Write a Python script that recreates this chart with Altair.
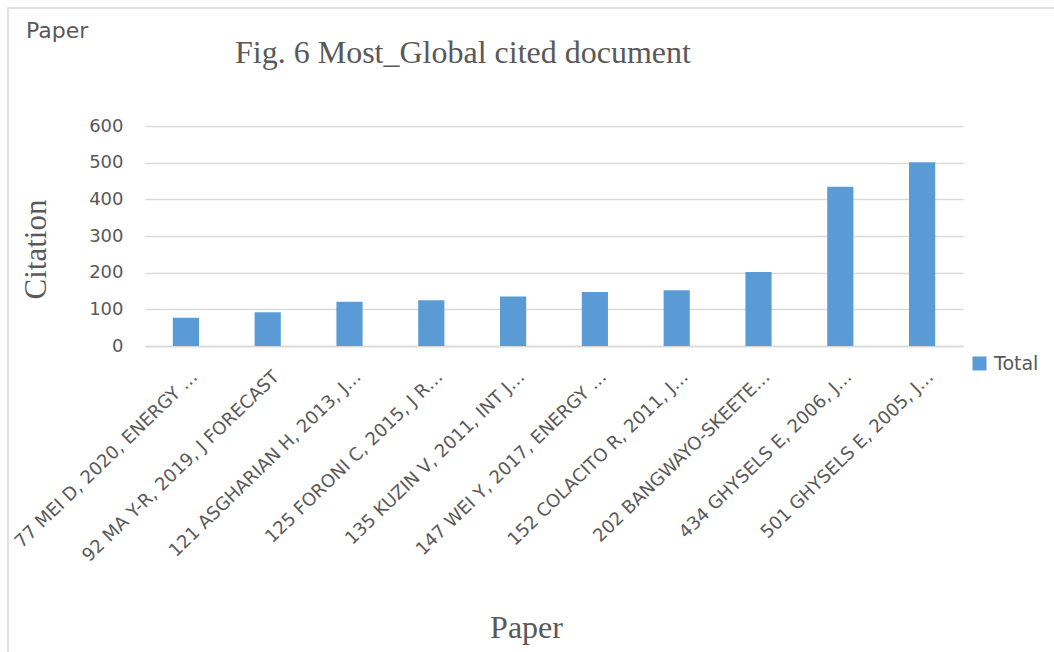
import altair as alt
import pandas as pd

papers = [
    "77 MEI D, 2020, ENERGY …",
    "92 MA Y-R, 2019, J FORECAST",
    "121 ASGHARIAN H, 2013, J…",
    "125 FORONI C, 2015, J R…",
    "135 KUZIN V, 2011, INT J…",
    "147 WEI Y, 2017, ENERGY …",
    "152 COLACITO R, 2011, J…",
    "202 BANGWAYO-SKEETE…",
    "434 GHYSELS E, 2006, J…",
    "501 GHYSELS E, 2005, J…",
]
citations = [77, 92, 121, 125, 135, 147, 152, 202, 434, 501]
series_name = "Total"
y_ticks = [0, 100, 200, 300, 400, 500, 600]
chart_title = "Fig. 6 Most_Global cited document"
field_name = "Paper"

df = pd.DataFrame({"Paper": papers, "Citation": citations, "Series": [series_name] * len(papers)})

GREY = "#595959"
SANS = "DejaVu Sans"
SERIF = "Liberation Serif"

bars = alt.Chart(df).mark_bar(color="#5B9BD5").encode(
    x=alt.X(
        "Paper:N",
        sort=papers,
        scale=alt.Scale(paddingInner=0.68, paddingOuter=0.34),
        axis=alt.Axis(
            title="Paper",
            titleFont=SERIF,
            titleFontSize=32,
            titleFontWeight="normal",
            titleColor=GREY,
            titleX=381,
            titleY=291,
            titleBaseline="alphabetic",
            titleAlign="center",
            labelFont=SANS,
            labelFontSize=18,
            labelColor=GREY,
            labelAngle=-44,
            labelAlign="right",
            labelBaseline="middle",
            labelPadding=28,
            labelOffset=9,
            labelLimit=400,
            ticks=False,
            tickSize=0,
            domainColor="#d9d9d9",
            domainWidth=1.5,
        ),
    ),
    y=alt.Y(
        "Citation:Q",
        scale=alt.Scale(domain=[0, 600], nice=False),
        axis=alt.Axis(
            title="Citation",
            titleFont=SERIF,
            titleFontSize=31,
            titleFontWeight="normal",
            titleColor=GREY,
            titleX=-100,
            titleY=123,
            titleAngle=270,
            titleAlign="center",
            titleBaseline="alphabetic",
            values=y_ticks,
            labelFont=SANS,
            labelFontSize=18,
            labelColor=GREY,
            labelPadding=22,
            ticks=False,
            tickSize=0,
            domain=False,
            gridColor="#d9d9d9",
            gridWidth=1.5,
        ),
    ),
    color=alt.Color(
        "Series:N",
        scale=alt.Scale(range=["#5B9BD5"]),
        legend=alt.Legend(
            title=None,
            orient="none",
            legendX=825,
            legendY=228,
            symbolType="square",
            symbolSize=196,
            symbolStrokeWidth=0,
            labelFont=SANS,
            labelFontSize=19,
            labelColor=GREY,
            labelOffset=5,
            padding=0,
        ),
    ),
)

border = alt.Chart(pd.DataFrame({"k": [0]})).mark_rect(
    fillOpacity=0, stroke="#d9d9d9", strokeWidth=1.5
).encode(
    x=alt.value(-137), x2=alt.value(915), y=alt.value(-118), y2=alt.value(534)
)

field_label = alt.Chart(pd.DataFrame({"t": [field_name]})).mark_text(
    font=SANS, fontSize=22, color=GREY, align="left", baseline="alphabetic"
).encode(x=alt.value(-119), y=alt.value(-88), text="t:N")

title_text = alt.Chart(pd.DataFrame({"t": [chart_title]})).mark_text(
    font=SERIF, fontSize=32, color=GREY, align="left", baseline="alphabetic"
).encode(x=alt.value(90), y=alt.value(-63), text="t:N")

chart = alt.layer(border, bars, field_label, title_text).properties(
    width=818,
    height=220,
    padding={"left": 145, "top": 126, "right": 91, "bottom": 306},
    autosize=alt.AutoSizeParams(type="none"),
).configure(background="white").configure_view(stroke=None)

chart.save("out.html", embed_options={"renderer": "svg", "actions": False})
